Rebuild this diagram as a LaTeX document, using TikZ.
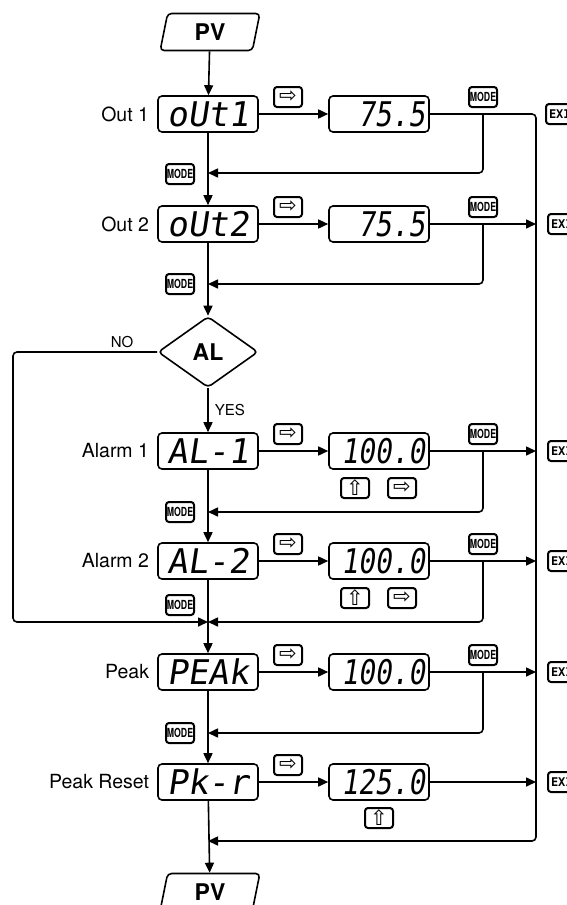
\documentclass[tikz,border=0pt]{standalone}
\usepackage{fontspec}
\setmainfont{TeX Gyre Heros}
\newfontfamily\segfont[FakeSlant=0.15]{DejaVu Sans Mono}
\newfontfamily\segnarrow[FakeSlant=0.15,FakeStretch=0.82]{DejaVu Sans Mono}
\newfontfamily\symfont{DejaVu Sans}
\newfontfamily\keyfont[FakeStretch=0.7,BoldFeatures={FakeStretch=0.7}]{TeX Gyre Heros}
\newfontfamily\keymono{DejaVu Sans Mono}
\usetikzlibrary{arrows.meta,shapes.geometric,positioning}

\tikzset{
  flow/.style={line width=1.6pt},
  disp/.style={draw,line width=1.6pt,rounded corners=4pt,minimum width=100pt,minimum height=36pt,inner sep=0pt},
  modedisp/.style={disp,font=\segfont\fontsize{34}{34}\selectfont},
  valdisp/.style={disp,text width=92pt,align=right,font=\segnarrow\fontsize{34}{34}\selectfont},
  key/.style={draw,line width=2pt,rounded corners=3pt,minimum width=28pt,minimum height=20pt,inner sep=0pt,font=\keyfont\bfseries\fontsize{12.5}{12.5}\selectfont},
  arrkey/.style={key,font=\symfont\fontsize{21}{21}\selectfont},
  exitkey/.style={key,anchor=west,inner xsep=3pt,font=\keymono\bfseries\fontsize{12}{12}\selectfont},
  pvbox/.style={draw,line width=1.6pt,trapezium,trapezium left angle=82,trapezium right angle=98,trapezium stretches=true,minimum width=100pt,minimum height=37pt,rounded corners=4pt,font=\bfseries\fontsize{23}{23}\selectfont},
  lbl/.style={inner sep=0pt,font=\fontsize{19.5}{19.5}\selectfont},
  small/.style={inner sep=0pt,font=\fontsize{15}{15}\selectfont}
}

\begin{document}
\begin{tikzpicture}[x=1pt,y=-1pt,>={Triangle[length=10pt,width=9pt]}]
\useasboundingbox (0,0) rectangle (566,905);

% start / end
\node (pvtop) [pvbox] at (210,32) {PV};
\node (pvbot) [pvbox] at (210,892) {PV};

% mode displays
\node (out1) [modedisp] at (208,114) {oUt1};
\node (out2) [modedisp] at (208,224) {oUt2};
\node (al) [draw,line width=1.6pt,diamond,aspect=1.4,minimum width=100pt,minimum height=71pt,inner sep=0pt,rounded corners=4pt,font=\bfseries\fontsize{23}{23}\selectfont] at (208,352) {AL};
\node (al1) [modedisp] at (208,451) {AL-1};
\node (al2) [modedisp] at (208,561) {AL-2};
\node (peak) [modedisp] at (208,672) {PEAk};
\node (pkr) [modedisp] at (208,782) {Pk-r};

% value displays
\node (out1val) [valdisp] at (379,114) {75.5};
\node (out2val) [valdisp] at (379,224) {75.5};
\node (al1val) [valdisp] at (379,451) {100.0};
\node (al2val) [valdisp] at (379,561) {100.0};
\node (peakval) [valdisp] at (379,672) {100.0};
\node (pkrval) [valdisp] at (379,782) {125.0};

% names
\node (out1lbl) [lbl,left=8pt of out1] {Out 1};
\node (out2lbl) [lbl,left=8pt of out2] {Out 2};
\node (al1lbl) [lbl,left=8pt of al1] {Alarm 1};
\node (al2lbl) [lbl,left=8pt of al2] {Alarm 2};
\node (peaklbl) [lbl,left=8pt of peak] {Peak};
\node (pkrlbl) [lbl,left=8pt of pkr] {Peak Reset};
\node (no) [small] at (122,342) {NO};

% keys
\node (out1shift) [arrkey] at (288,97) {⇨};
\node (out2shift) [arrkey] at (288,207) {⇨};
\node (al1shift) [arrkey] at (288,434) {⇨};
\node (al2shift) [arrkey] at (288,544) {⇨};
\node (peakshift) [arrkey] at (288,655) {⇨};
\node (pkrshift) [arrkey] at (288,765) {⇨};
\node (al1up) [arrkey] at (355,488) {⇧};
\node (al1right) [arrkey] at (402,488) {⇨};
\node (al2up) [arrkey] at (355,598) {⇧};
\node (al2right) [arrkey] at (402,598) {⇨};
\node (pkrup) [arrkey] at (379,818) {⇧};
\node (out1mode) [key] at (483,97) {MODE};
\node (out2mode) [key] at (483,207) {MODE};
\node (al1mode) [key] at (483,434) {MODE};
\node (al2mode) [key] at (483,544) {MODE};
\node (peakmode) [key] at (483,655) {MODE};
\node (ret1mode) [key] at (180,174) {MODE};
\node (ret2mode) [key] at (180,284) {MODE};
\node (ret3mode) [key] at (180,512) {MODE};
\node (ret4mode) [key] at (180,605) {MODE};
\node (ret5mode) [key] at (180,733) {MODE};
\node (exit1) [exitkey] at (545,114) {EXIT};
\node (exit2) [exitkey] at (547,224) {EXIT};
\node (exit3) [exitkey] at (547,451) {EXIT};
\node (exit4) [exitkey] at (547,561) {EXIT};
\node (exit5) [exitkey] at (547,672) {EXIT};
\node (exit6) [exitkey] at (547,782) {EXIT};

% main line
\draw[flow,->] (pvtop) -- (out1);
\draw[flow,->] (out1) -- (out2);
\draw[flow,->] (out2) -- (al);
\draw[flow,->] (al) -- node (yes) [small,right=6pt] {YES} (al1);
\draw[flow,->] (al1) -- (al2);
\draw[flow,->] (al2) -- (peak);
\draw[flow,->] (peak) -- (pkr);
\draw[flow,->] (pkr) -- (pvbot);

% into the values
\draw[flow,->] (out1) -- (out1val);
\draw[flow,->] (out2) -- (out2val);
\draw[flow,->] (al1) -- (al1val);
\draw[flow,->] (al2) -- (al2val);
\draw[flow,->] (peak) -- (peakval);
\draw[flow,->] (pkr) -- (pkrval);

% MODE back to the main line
\coordinate (m1) at (483,114); \coordinate (r1) at (208,173);
\coordinate (m2) at (483,224); \coordinate (r2) at (208,284);
\coordinate (m3) at (483,451); \coordinate (r3) at (208,512);
\coordinate (m4) at (483,561); \coordinate (r4) at (208,622);
\coordinate (m5) at (483,672); \coordinate (r5) at (208,733);
\draw[flow,->,rounded corners=4pt] (m1) |- (r1);
\draw[flow,->,rounded corners=4pt] (m2) |- (r2);
\draw[flow,->,rounded corners=4pt] (m3) |- (r3);
\draw[flow,->,rounded corners=4pt] (m4) |- (r4);
\draw[flow,->,rounded corners=4pt] (m5) |- (r5);

% NO branch
\coordinate (nol) at (13,622);
\draw[flow,->,rounded corners=4pt] (al.west) -| (nol) -- (r4);

% exit line
\coordinate (xt) at (536,114); \coordinate (xb) at (536,841); \coordinate (r6) at (208,841);
\draw[flow,->,rounded corners=4pt] (out1val) -- (xt) -- (xb) -- (r6);
\draw[flow,->] (out2val) -- (out2val -| xt);
\draw[flow,->] (al1val) -- (al1val -| xt);
\draw[flow,->] (al2val) -- (al2val -| xt);
\draw[flow,->] (peakval) -- (peakval -| xt);
\draw[flow,->] (pkrval) -- (pkrval -| xt);
\end{tikzpicture}
\end{document}
